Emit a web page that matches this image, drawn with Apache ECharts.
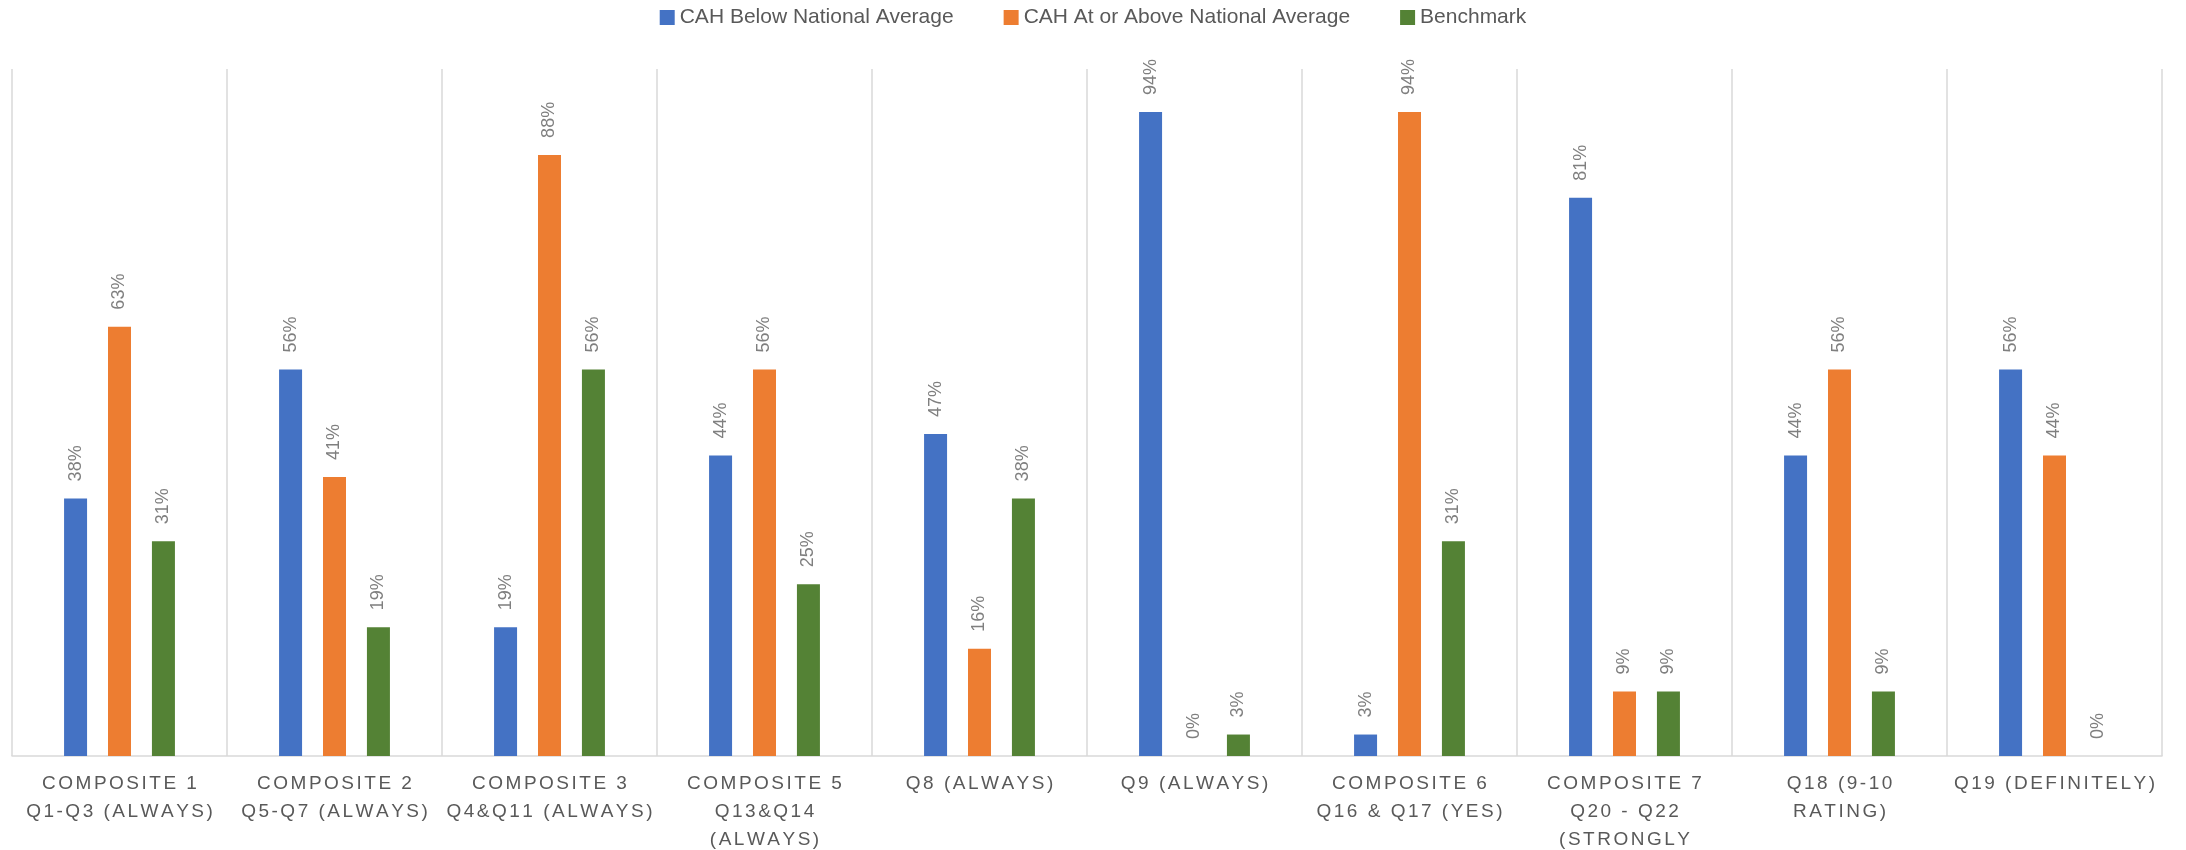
<!DOCTYPE html>
<html>
<head>
<meta charset="utf-8">
<title>CAH survey composites</title>
<script src="https://cdn.jsdelivr.net/npm/echarts@6/dist/echarts.min.js"></script>
<style>
  html, body { margin: 0; padding: 0; background: #ffffff; }
  #chart { width: 2186px; height: 850px; }
</style>
</head>
<body>
<div id="chart"></div>
<script>
// Survey measures (category axis tick labels)
const categories = [
  'COMPOSITE 1\nQ1-Q3 (ALWAYS)',
  'COMPOSITE 2\nQ5-Q7 (ALWAYS)',
  'COMPOSITE 3\nQ4&Q11 (ALWAYS)',
  'COMPOSITE 5\nQ13&Q14\n(ALWAYS)',
  'Q8 (ALWAYS)',
  'Q9 (ALWAYS)',
  'COMPOSITE 6\nQ16 & Q17 (YES)',
  'COMPOSITE 7\nQ20 - Q22\n(STRONGLY\nAGREE)',
  'Q18 (9-10\nRATING)',
  'Q19 (DEFINITELY)'
];

const seriesNames = [
  'CAH Below National Average',
  'CAH At or Above National Average',
  'Benchmark'
];

// Share of hospitals, in percent (out of 32)
const belowNational = [37.5, 56.25, 18.75, 43.75, 46.875, 93.75, 3.125, 81.25, 43.75, 56.25];
const atOrAboveNational = [62.5, 40.625, 87.5, 56.25, 15.625, 0, 93.75, 9.375, 56.25, 43.75];
const benchmark = [31.25, 18.75, 56.25, 25, 37.5, 3.125, 31.25, 9.375, 9.375, 0];

const FONT = '"Liberation Sans", Arial, sans-serif';
const AXIS_LABEL_SIZE = 19;
const AXIS_LABEL_TRACKING = 2.5;

// Category labels are drawn with wide tracking: glyphs are placed one by one
const baseFillText = CanvasRenderingContext2D.prototype.fillText;
CanvasRenderingContext2D.prototype.fillText = function (text, x, y, maxWidth) {
  const isAxisLabel = typeof text === 'string' && this.font &&
    this.font.indexOf(AXIS_LABEL_SIZE + 'px') >= 0;
  if (!isAxisLabel) {
    return maxWidth === undefined
      ? baseFillText.call(this, text, x, y)
      : baseFillText.call(this, text, x, y, maxWidth);
  }
  const chars = Array.from(text);
  const widths = chars.map(c => this.measureText(c).width);
  const total = widths.reduce((a, b) => a + b, 0) + AXIS_LABEL_TRACKING * (chars.length - 1);
  const align = this.textAlign;
  let cx = x;
  if (align === 'center') cx = x - total / 2;
  else if (align === 'right' || align === 'end') cx = x - total;
  this.textAlign = 'left';
  chars.forEach((c, i) => {
    baseFillText.call(this, c, cx, y);
    cx += widths[i] + AXIS_LABEL_TRACKING;
  });
  this.textAlign = align;
};

const chart = echarts.init(document.getElementById('chart'), null, { renderer: 'canvas' });

const valueLabel = {
  show: true,
  position: 'top',
  distance: 17,
  rotate: 90,
  align: 'left',
  verticalAlign: 'middle',
  color: '#7F7F7F',
  fontSize: 18,
  fontFamily: FONT,
  formatter: p => Math.round(p.value) + '%'
};

const colors = ['#4472C4', '#ED7D31', '#548235'];
const values = [belowNational, atOrAboveNational, benchmark];

chart.setOption({
  animation: false,
  backgroundColor: '#ffffff',
  color: colors,
  legend: {
    top: 2,
    left: 'center',
    icon: 'rect',
    itemWidth: 15,
    itemHeight: 15,
    itemGap: 50,
    textStyle: { fontSize: 21, color: '#595959', fontFamily: FONT },
    data: seriesNames
  },
  grid: {
    left: 12,
    right: 24,
    top: 69,
    bottom: 94,
    containLabel: false,
    outerBoundsMode: 'none'
  },
  xAxis: {
    type: 'category',
    data: categories,
    axisLine: { show: true, lineStyle: { color: '#D9D9D9', width: 1.5 } },
    axisTick: { show: false },
    splitLine: { show: true, lineStyle: { color: '#D9D9D9', width: 1.5 } },
    axisLabel: {
      interval: 0,
      margin: 14,
      fontSize: AXIS_LABEL_SIZE,
      lineHeight: 28,
      color: '#595959',
      fontFamily: FONT
    }
  },
  yAxis: {
    type: 'value',
    min: 0,
    max: 100,
    show: false,
    splitLine: { show: false }
  },
  series: seriesNames.map((name, i) => ({
    name,
    type: 'bar',
    data: values[i],
    barWidth: 23,
    barGap: '91%',
    itemStyle: { color: colors[i] },
    label: valueLabel
  }))
});
</script>
</body>
</html>
